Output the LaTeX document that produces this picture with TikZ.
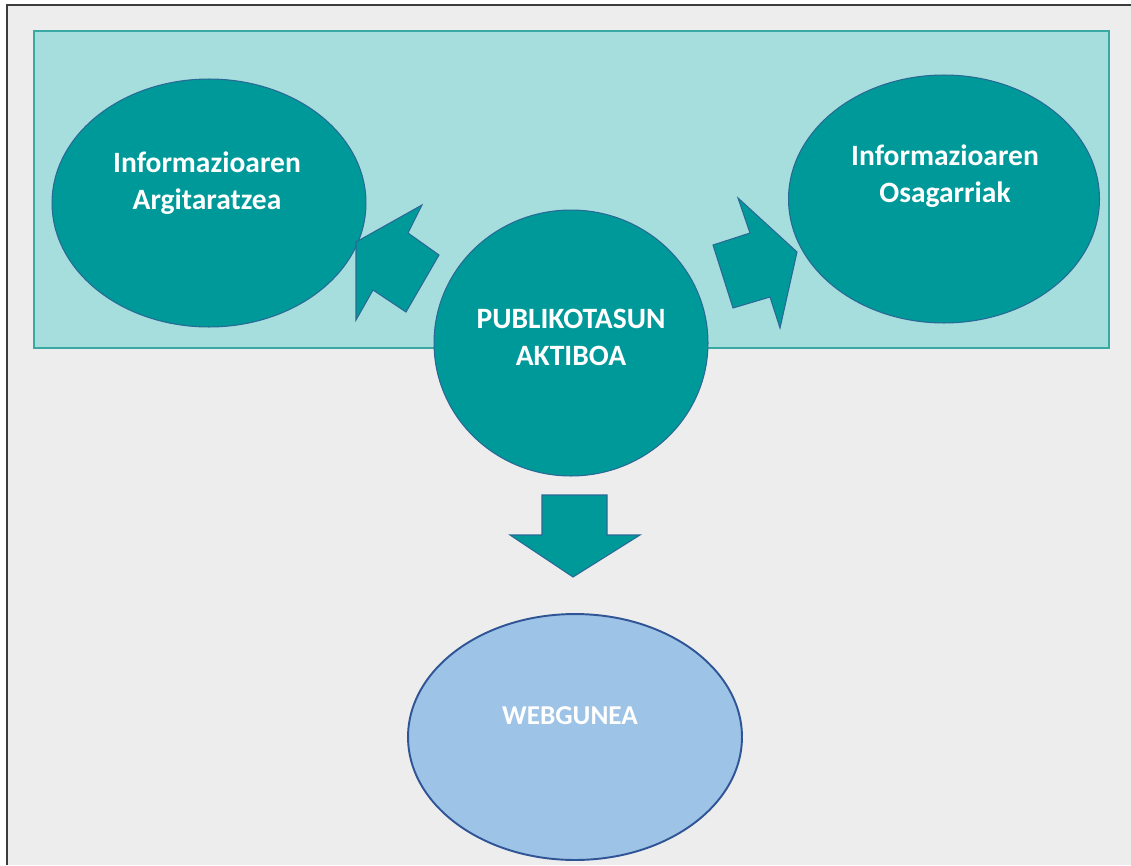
\documentclass[tikz,border=0pt]{standalone}
\usepackage{fontspec}
\setmainfont{Carlito}
\usepackage{tikz}
\usetikzlibrary{calc}
\usetikzlibrary{shapes.geometric}
\definecolor{pa-back}{RGB}{237, 237, 237}
\definecolor{pa-frame}{RGB}{60, 60, 60}
\definecolor{pa-band}{RGB}{166, 222, 221}
\definecolor{pa-bandline}{RGB}{58, 168, 163}
\definecolor{pa-teal}{RGB}{0, 153, 153}
\definecolor{pa-tealline}{RGB}{40, 105, 150}
\definecolor{pa-web}{RGB}{157, 195, 230}
\definecolor{pa-webline}{RGB}{47, 85, 151}

\begin{document}
\begin{tikzpicture}[x = 0.02cm, y = -0.02cm,
    bubble/.style = {ellipse, draw = pa-tealline, fill = pa-teal, line width = 0.6pt, inner sep = 0pt},
    bubbletext/.style = {text = white, align = center, font = \fontsize{16.8}{21}\selectfont\bfseries},
    blockarrow/.style = {draw = pa-tealline, fill = pa-teal, line width = 0.6pt, line join = miter}]
          \useasboundingbox (0, 0) rectangle (1131, 865);
          \fill[white] (0, 0) rectangle (1131, 865);
          \fill[pa-back] (7, 5) rectangle (1131, 865);
          \draw[pa-frame, line width = 1.2pt] (7, 865) -- (7, 5) -- (1131, 5);

          \draw[pa-bandline, fill = pa-band, line width = 1.2pt] (34, 31) rectangle (1109, 348);

          \node[bubble, minimum width = 6.28cm, minimum height = 4.96cm] (argitaratzea) at (209, 203) {};
          \node[bubble, minimum width = 6.22cm, minimum height = 4.96cm] (osagarriak) at (944, 199) {};
          \node[bubble, minimum width = 5.48cm, minimum height = 5.32cm] (aktiboa) at (571, 343) {};
          \node[ellipse, draw = pa-webline, fill = pa-web, line width = 1.1pt, inner sep = 0pt,
            minimum width = 6.68cm, minimum height = 4.92cm] (webgunea) at (575, 737) {};

          \node[bubbletext] (argitaratzea-text) at ($(argitaratzea) + (-2, -20)$) {Informazioaren\\Argitaratzea};
          \node[bubbletext] (osagarriak-text) at ($(osagarriak) + (1, -23)$) {Informazioaren\\Osagarriak};
          \node[bubbletext] (aktiboa-text) at ($(aktiboa) + (0, -6)$) {PUBLIKOTASUN\\AKTIBOA};
          \node[text = white, font = \fontsize{15.5}{18}\selectfont\bfseries] (webgunea-text)
            at ($(webgunea) + (-5, -21)$) {WEBGUNEA};

          % block arrows
          \draw[blockarrow] (422, 205) -- (408, 233) -- (439, 255) -- (406, 312)
            -- (373, 290) -- (356, 320) -- (356, 242) -- cycle;
          \draw[blockarrow] (738, 198) -- (750, 233) -- (713, 245) -- (733, 308)
            -- (770, 297) -- (780, 328) -- (797, 252) -- cycle;
          \draw[blockarrow] (542, 495) -- (607, 495) -- (607, 535) -- (640, 535)
            -- (573, 577) -- (510, 535) -- (542, 535) -- cycle;
        \end{tikzpicture}
\end{document}
